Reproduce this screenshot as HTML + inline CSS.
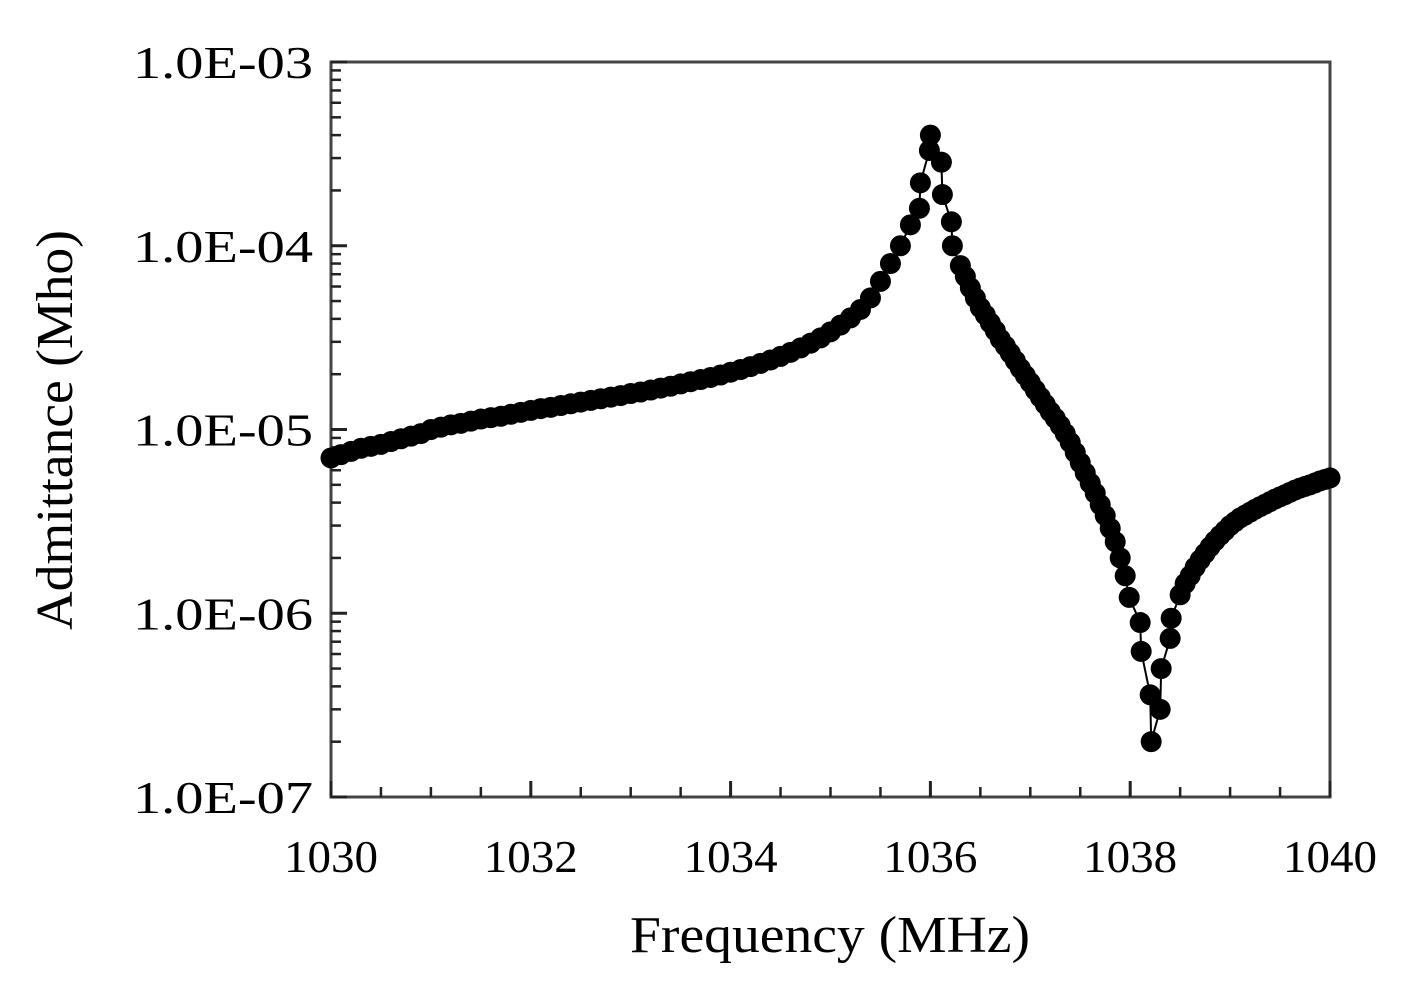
<!DOCTYPE html>
<html><head><meta charset="utf-8"><style>
body{margin:0;background:#fff;}
svg text{font-family:"Liberation Serif",serif;fill:#000;}
</style></head><body>
<svg id="chart" width="1414" height="991" xmlns="http://www.w3.org/2000/svg">
<g id="axes"></g><g id="series"></g>
</svg>
<script>
const freqs=[1030.0,1030.1,1030.2,1030.3,1030.4,1030.5,1030.6,1030.7,1030.8,1030.9,
1031.0,1031.1,1031.2,1031.3,1031.4,1031.5,1031.6,1031.7,1031.8,1031.9,
1032.0,1032.1,1032.2,1032.3,1032.4,1032.5,1032.6,1032.7,1032.8,1032.9,
1033.0,1033.1,1033.2,1033.3,1033.4,1033.5,1033.6,1033.7,1033.8,1033.9,
1034.0,1034.1,1034.2,1034.3,1034.4,1034.5,1034.6,1034.7,1034.8,1034.9,
1035.0,1035.1,1035.2,1035.3,1035.4,1035.5,1035.6,1035.7,1035.8,
1035.89,1035.9,1035.99,1036.0,1036.11,1036.12,1036.21,1036.22,
1036.3,1036.35,1036.4,1036.45,1036.5,1036.55,1036.6,1036.65,1036.7,1036.75,
1036.8,1036.85,1036.9,1036.95,1037.0,1037.05,1037.1,1037.15,1037.2,1037.25,
1037.3,1037.35,1037.4,1037.45,1037.5,1037.55,1037.6,1037.65,1037.7,1037.75,
1037.8,1037.85,1037.9,1037.95,1037.99,
1038.1,1038.11,1038.2,1038.21,1038.3,1038.31,1038.4,1038.41,
1038.5,1038.55,1038.6,1038.65,1038.7,1038.75,1038.8,1038.85,1038.9,1038.95,
1039.0,1039.05,1039.1,1039.15,1039.2,1039.25,1039.3,1039.35,1039.4,1039.45,
1039.5,1039.55,1039.6,1039.65,1039.7,1039.75,1039.8,1039.85,1039.9,1039.95,1040.0];
const admittance=[7.0e-6,7.3e-6,7.6e-6,7.9e-6,8.1e-6,8.3e-6,8.6e-6,8.9e-6,9.2e-6,9.5e-6,
1.00e-5,1.03e-5,1.06e-5,1.08e-5,1.11e-5,1.14e-5,1.16e-5,1.18e-5,1.21e-5,1.24e-5,
1.27e-5,1.30e-5,1.32e-5,1.35e-5,1.38e-5,1.41e-5,1.44e-5,1.47e-5,1.50e-5,1.53e-5,
1.57e-5,1.60e-5,1.64e-5,1.68e-5,1.72e-5,1.77e-5,1.82e-5,1.87e-5,1.92e-5,1.98e-5,
2.05e-5,2.12e-5,2.20e-5,2.29e-5,2.39e-5,2.50e-5,2.63e-5,2.78e-5,2.95e-5,3.15e-5,
3.40e-5,3.70e-5,4.05e-5,4.50e-5,5.2e-5,6.4e-5,8.0e-5,1.0e-4,1.3e-4,
1.6e-4,2.2e-4,3.3e-4,4.0e-4,2.85e-4,1.9e-4,1.35e-4,1.0e-4,
7.8e-5,6.8e-5,5.9e-5,5.2e-5,4.6e-5,4.2e-5,3.8e-5,3.45e-5,3.1e-5,2.85e-5,
2.6e-5,2.37e-5,2.15e-5,1.97e-5,1.8e-5,1.64e-5,1.5e-5,1.37e-5,1.25e-5,1.15e-5,
1.05e-5,9.5e-6,8.5e-6,7.5e-6,6.6e-6,5.8e-6,5.1e-6,4.5e-6,3.9e-6,3.4e-6,
2.9e-6,2.45e-6,2.0e-6,1.6e-6,1.22e-6,
8.9e-7,6.2e-7,3.6e-7,2.0e-7,3.0e-7,5.0e-7,7.3e-7,9.4e-7,
1.26e-6,1.45e-6,1.6e-6,1.78e-6,1.95e-6,2.12e-6,2.3e-6,2.48e-6,2.65e-6,2.82e-6,
3.0e-6,3.15e-6,3.3e-6,3.42e-6,3.55e-6,3.68e-6,3.8e-6,3.92e-6,4.05e-6,4.18e-6,
4.3e-6,4.42e-6,4.55e-6,4.68e-6,4.8e-6,4.9e-6,5.0e-6,5.12e-6,5.25e-6,5.35e-6,5.45e-6];
const xTicks=[1030,1032,1034,1036,1038,1040];
const yTicks=[-7,-6,-5,-4,-3];
const yTickLabels=["1.0E-07","1.0E-06","1.0E-05","1.0E-04","1.0E-03"];

const L=331,R=1330,T=62,B=797;
const xs=f=>L+(f-1030)/10*(R-L);
const ys=v=>B-(Math.log10(v)+7)/4*(B-T);
const NS="http://www.w3.org/2000/svg";
function mk(tag,attrs,parent){const e=document.createElementNS(NS,tag);for(const k in attrs)e.setAttribute(k,attrs[k]);parent.appendChild(e);return e;}
const ax=document.getElementById('axes'), se=document.getElementById('series');

const fr=mk('rect',{x:L,y:T,width:R-L,height:B-T,fill:'none',stroke:'#444','stroke-width':3},ax);


for(let d=-7;d<-3;d++){for(let m=2;m<=9;m++){const y=ys(m*Math.pow(10,d));
 const t=mk('line',{x1:L,x2:L+10,y1:y,y2:y,stroke:'#222','stroke-width':2.5},ax);
 
 }}
yTicks.forEach((d,i)=>{const y=ys(Math.pow(10,d));
 const t=mk('line',{x1:L,x2:L+16,y1:y,y2:y,stroke:'#222','stroke-width':3},ax);
 
 
 const tx=mk('text',{x:133,y:y+16,'font-size':46,textLength:180,lengthAdjust:'spacingAndGlyphs'},ax);tx.textContent=yTickLabels[i];
 
 });
for(let f=1030.5;f<1040;f+=0.5){const x=xs(f);
 const t=mk('line',{x1:x,x2:x,y1:B,y2:B-10,stroke:'#222','stroke-width':2.5},ax);
 
 }
xTicks.forEach(f=>{const x=xs(f);
 const t=mk('line',{x1:x,x2:x,y1:B,y2:B-16,stroke:'#222','stroke-width':3},ax);
 
 
 const tx=mk('text',{x:x-47,y:872,'font-size':46,textLength:94,lengthAdjust:'spacingAndGlyphs'},ax);tx.textContent=String(f);
 
 });
const xt=mk('text',{x:630,y:952,'font-size':52,textLength:400,lengthAdjust:'spacingAndGlyphs'},ax);xt.textContent='Frequency (MHz)';


const yt=mk('text',{x:-200,y:0,'font-size':52,textLength:400,lengthAdjust:'spacingAndGlyphs',transform:'translate(72,430) rotate(-90)'},ax);yt.textContent='Admittance (Mho)';


const pts=freqs.map((f,i)=>xs(f).toFixed(1)+','+ys(admittance[i]).toFixed(1)).join(' ');
const pl=mk('polyline',{points:pts,fill:'none',stroke:'#000','stroke-width':2},se);


freqs.forEach((f,i)=>{const c=mk('circle',{cx:xs(f),cy:ys(admittance[i]),r:10.5,fill:'#000'},se);
 
 });
</script>
</body></html>
